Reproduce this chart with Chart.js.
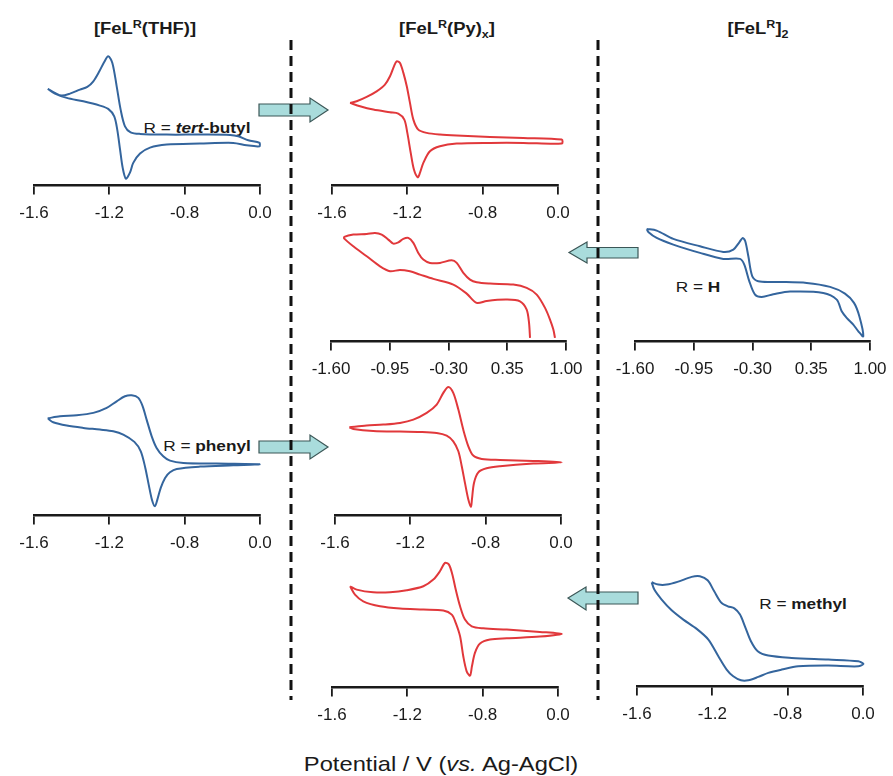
<!DOCTYPE html>
<html>
<head>
<meta charset="utf-8">
<title>FeL(R) cyclic voltammograms</title>
<script src="https://cdn.jsdelivr.net/npm/chart.js@4.4.1/dist/chart.umd.min.js"></script>
<style>
  html, body { margin: 0; padding: 0; background: #fff; }
  #fig { position: relative; width: 893px; height: 776px; overflow: hidden;
         font-family: 'Liberation Sans', Arial, sans-serif; color: #1a1a1a; }
  #fig canvas { position: absolute; }
  #deco { position: absolute; left: 0; top: 0; }
  .txt { position: absolute; white-space: nowrap; line-height: 1;
         transform: translate(-50%, -50%) scaleX(1.15); }
  .title { font-weight: bold; font-size: 16px; }
  .rlab { font-size: 15px; }
  .xlab { font-size: 21px; transform: translate(-50%, -50%) scaleX(1.13); }
  sup, sub { font-size: 68%; line-height: 0; }
</style>
</head>
<body>
<div id="fig">
  <svg id="deco" width="893" height="776">
    <!-- arrows between columns -->
    <g fill="#a9dcdc" stroke="#3b5656" stroke-width="1.2">
      <polygon points="259,104 310,104 310,98 328,110 310,122 310,116 259,116"/>
      <polygon points="638,247.5 587,247.5 587,242 569,252.5 587,263 587,258 638,258"/>
      <polygon points="259,441 310,441 310,435 328,447 310,459 310,453 259,453"/>
      <polygon points="638,592 586,592 586,587 568,598 586,610 586,604 638,604"/>
    </g>
    <!-- column separators -->
    <g stroke="#111" stroke-width="3" stroke-dasharray="10 6">
      <line x1="291" y1="40" x2="291" y2="700"/>
      <line x1="598" y1="40" x2="598" y2="700"/>
    </g>
  </svg>

  <div class="txt title" style="left:145px; top:29px;">[FeL<sup>R</sup>(THF)]</div>
  <div class="txt title" style="left:447px; top:29px;">[FeL<sup>R</sup>(Py)<sub>x</sub>]</div>
  <div class="txt title" style="left:758px; top:29px;">[FeL<sup>R</sup>]<sub>2</sub></div>

  <div class="txt rlab" style="left:197px; top:127px;">R = <b><i>tert</i>-butyl</b></div>
  <div class="txt rlab" style="left:698px; top:286px;">R = <b>H</b></div>
  <div class="txt rlab" style="left:207px; top:445px;">R = <b>phenyl</b></div>
  <div class="txt rlab" style="left:803px; top:603px;">R = <b>methyl</b></div>

  <div class="txt xlab" style="left:441px; top:763px;">Potential / V (<i>vs.</i> Ag-AgCl)</div>
</div>

<script>
/* ============== Axis ticks ============== */

// the -1.6 ... 0.0 panels: four evenly spaced ticks, last one printed as 0.0
const shortTickValues = [-1.6, -1.2, -0.8, -0.4];
const shortTickLabels = ['-1.6', '-1.2', '-0.8', '0.0'];
// the R = H panels
const wideTickValues = [-1.60, -0.95, -0.30, 0.35, 1.00];
const wideTickLabels = ['-1.60', '-0.95', '-0.30', '0.35', '1.00'];

/* ============== Voltammograms (E in V, i in a.u.) ============== */
// each loop: forward branch then return branch

// [FeL(THF)], R = tert-butyl
const tbuThfE = [-1.527, -1.489, -1.453, -1.409, -1.356, -1.317, -1.285, -1.253, -1.228, -1.206, -1.184,
  -1.161, -1.140, -1.117, -1.087, -1.037, -0.895, -0.719, -0.559, -0.515, -0.462, -0.402,
  -0.402, -0.471, -0.542, -0.719, -0.895, -0.984, -1.037, -1.073, -1.090, -1.112, -1.129, -1.143,
  -1.158, -1.174, -1.206, -1.250, -1.338, -1.426, -1.489, -1.527];
const tbuThfI = [96.7, 92.7, 90, 92, 96, 98.7, 104.3, 114.3, 123.3, 129.3, 122.7,
  99.3, 76, 59.3, 53.3, 51.7, 51, 51, 50.7, 49.3, 45.3, 42.7,
  39.3, 40.3, 42.7, 42, 41, 38, 32, 22.7, 13.3, 7, 17.7, 36,
  56, 69.3, 76.7, 80, 84.3, 87.7, 92, 96.7];

// [FeL(Py)x], R = tert-butyl
const tbuPyE = [-1.504, -1.469, -1.416, -1.363, -1.319, -1.292, -1.271, -1.257, -1.239, -1.221, -1.203,
  -1.186, -1.168, -1.142, -1.097, -1.027, -0.938, -0.761, -0.584, -0.380,
  -0.380, -0.584, -0.761, -0.938, -1.027, -1.080, -1.115, -1.133, -1.145, -1.165, -1.182,
  -1.200, -1.216, -1.248, -1.292, -1.381, -1.451, -1.504];
const tbuPyI = [82.7, 84.3, 88.7, 94.3, 101, 109.3, 119.3, 124.3, 122.7, 112.7, 99.3,
  82.7, 66, 56, 52.7, 51, 50, 48.7, 47.7, 46,
  42, 42.7, 42.7, 42, 39.3, 34.3, 22.7, 12.7, 8.3, 16, 32.7,
  52.7, 66, 72, 73.3, 76, 79.3, 82.7];

// [FeL]2, R = H
const hDimerE = [-1.471, -1.360, -1.176, -0.881, -0.623, -0.512, -0.446, -0.408, -0.380, -0.346,
  -0.302, -0.236, -0.032, 0.300, 0.558, 0.723, 0.823, 0.882, 0.926,
  0.871, 0.815, 0.742, 0.687, 0.632, 0.483, 0.115, -0.070, -0.198, -0.272,
  -0.335, -0.391, -0.438, -0.623, -0.881, -1.176, -1.360, -1.453, -1.471];
const hDimerI = [112.7, 111, 102.7, 95.3, 89.7, 92, 99.3, 103.7, 100.3, 85.3,
  65.3, 60.3, 59.7, 58.7, 54.7, 48, 38.7, 25.3, 5.3,
  10.3, 17, 23.7, 30.3, 42, 48.7, 50, 47.3, 44.7, 47,
  60.3, 77, 82.7, 82.7, 88.7, 97, 103.7, 109.7, 112.7];

// [FeL(Py)x], R = H (open trace, both ends run off at the right)
const hPyE = [0.602, 0.591, 0.565, 0.491, 0.344, 0.123, 0.012, -0.099, -0.247, -0.468,
  -0.615, -0.726, -0.837, -0.947, -1.058, -1.205, -1.353, -1.453,
  -1.453, -1.353, -1.205, -1.113, -1.039, -0.966, -0.911, -0.855, -0.800, -0.745,
  -0.689, -0.634, -0.579, -0.505, -0.394, -0.265, -0.209, -0.136, -0.062, 0.012,
  0.159, 0.417, 0.565, 0.676, 0.768, 0.823, 0.860, 0.878];
const hPyI = [3.7, 18.7, 32, 40.3, 42, 40.7, 38.7, 48, 57, 62.7,
  67, 70.3, 71.7, 70.3, 75.3, 85.3, 95.3, 103,
  104.7, 107, 107.7, 108.7, 107, 102, 98, 99.3, 102.7, 103.7,
  98.7, 88.7, 82, 78.7, 78.7, 81.3, 78.7, 68.7, 62, 59.3,
  58, 57, 53.7, 47, 33.7, 22, 12, 3.7];

// [FeL(THF)], R = phenyl
const phThfE = [-1.527, -1.462, -1.373, -1.285, -1.214, -1.161, -1.117, -1.081, -1.046, -1.023,
  -1.002, -0.975, -0.949, -0.914, -0.878, -0.807, -0.630, -0.402,
  -0.542, -0.719, -0.842, -0.878, -0.904, -0.927, -0.945, -0.958, -0.973, -0.991,
  -1.009, -1.033, -1.067, -1.126, -1.179, -1.250, -1.338, -1.426, -1.498, -1.527];
const phThfI = [97.3, 99.3, 100.3, 102.7, 107.7, 114.3, 119.3, 120.3, 117.7, 109.3,
  96, 79.3, 67.7, 59.3, 55, 52.7, 52, 51.3,
  50.3, 49, 46.7, 43.3, 37.7, 27.7, 16, 9.3, 15.3, 31,
  47.7, 64.3, 73.7, 81, 84.3, 86, 87.7, 90, 93.3, 97.3];

// [FeL(Py)x], R = phenyl
const phPyE = [-1.524, -1.432, -1.344, -1.255, -1.184, -1.113, -1.060, -1.025, -0.998, -0.972,
  -0.945, -0.919, -0.892, -0.866, -0.821, -0.724, -0.547, -0.396,
  -0.547, -0.724, -0.795, -0.839, -0.862, -0.873, -0.878, -0.892, -0.910, -0.927,
  -0.945, -0.972, -1.007, -1.060, -1.149, -1.255, -1.397, -1.503, -1.524];
const phPyI = [88.3, 90, 91, 92.7, 96, 102.7, 111, 122.7, 128.7, 122.7,
  106, 86, 69.3, 60, 56.7, 55.7, 54.7, 53.3,
  52, 49.3, 47.3, 43.3, 32.7, 16, 8.7, 16, 32.7, 49.3,
  64.3, 74.3, 80, 82.7, 83.7, 84, 84.7, 86.7, 88.3];

// [FeL(Py)x], R = methyl
const mePyE = [-1.504, -1.469, -1.381, -1.292, -1.203, -1.115, -1.062, -1.027, -1.000, -0.979,
  -0.961, -0.943, -0.920, -0.894, -0.858, -0.797, -0.672, -0.496, -0.380,
  -0.496, -0.672, -0.761, -0.814, -0.841, -0.857, -0.867, -0.885, -0.903, -0.920,
  -0.943, -0.964, -1.009, -1.115, -1.239, -1.345, -1.434, -1.478, -1.504];
const mePyI = [101.3, 98, 95.3, 95.3, 97.3, 101.3, 108, 116.3, 124.7, 123,
  113, 98, 81.3, 68, 61.3, 59.3, 58, 55.7, 53.7,
  51, 49.3, 48, 44, 34.7, 21.3, 12, 16.3, 31.3, 51.3,
  64.7, 73, 77, 78, 79, 81.3, 86.3, 93, 101.3];

// [FeL]2, R = methyl
const meDimerE = [-1.522, -1.487, -1.442, -1.381, -1.310, -1.266, -1.225, -1.190, -1.154, -1.118,
  -1.083, -1.053, -1.027, -0.995, -0.959, -0.903, -0.779, -0.584, -0.425, -0.398,
  -0.425, -0.584, -0.744, -0.832, -0.903, -0.956, -1.009, -1.048, -1.089,
  -1.124, -1.168, -1.221, -1.283, -1.354, -1.416, -1.469, -1.508, -1.522];
const meDimerI = [104.3, 102, 102, 105, 109.7, 110.3, 106.3, 95.3, 84.3, 80.3,
  78.3, 72, 60.3, 45.3, 35.3, 31, 28.7, 27, 25.3, 22.7,
  20.3, 21, 20.3, 17, 13.7, 9.7, 6.3, 6.3, 10.3,
  17, 30.3, 47, 57.7, 67, 76.3, 87, 97, 104.3];

/* ============== Panel layout ============== */

const BLUE = '#34659d';
const RED = '#e1383b';
const SIDE_PAD = 30;
const TICK_FONT = { family: "'Liberation Sans', Arial, sans-serif", size: 17 };

// x0/x1 = pixel span of the axis line, axisY = its height on the page
const panels = [
  { E: tbuThfE, I: tbuThfI, color: BLUE, x0: 34, x1: 260, axisY: 186, ticks: shortTickValues, labels: shortTickLabels },
  { E: tbuPyE, I: tbuPyI, color: RED, x0: 332, x1: 558, axisY: 186, ticks: shortTickValues, labels: shortTickLabels },
  { E: hPyE, I: hPyI, color: RED, x0: 331, x1: 566, axisY: 342, ticks: wideTickValues, labels: wideTickLabels },
  { E: hDimerE, I: hDimerI, color: BLUE, x0: 635, x1: 870, axisY: 342, ticks: wideTickValues, labels: wideTickLabels },
  { E: phThfE, I: phThfI, color: BLUE, x0: 34, x1: 260, axisY: 516, ticks: shortTickValues, labels: shortTickLabels },
  { E: phPyE, I: phPyI, color: RED, x0: 335, x1: 561, axisY: 516, ticks: shortTickValues, labels: shortTickLabels },
  { E: mePyE, I: mePyI, color: RED, x0: 332, x1: 558, axisY: 688, ticks: shortTickValues, labels: shortTickLabels },
  { E: meDimerE, I: meDimerI, color: BLUE, x0: 637, x1: 863, axisY: 687, ticks: shortTickValues, labels: shortTickLabels },
];

/**
 * Builds one voltammogram chart on its own canvas and moves the canvas so that
 * the x axis lands where it sits in the figure.
 */
function renderPanel(panel) {
  const canvas = document.createElement('canvas');
  canvas.width = (panel.x1 - panel.x0) + 2 * SIDE_PAD;
  canvas.height = 240;
  document.getElementById('fig').appendChild(canvas);

  // CV loops run back and forth in E, so the points are not sorted in x
  const points = panel.E.map((e, k) => ({ x: e, y: panel.I[k] }));

  const chart = new Chart(canvas, {
    type: 'scatter',
    data: {
      datasets: [{
        data: points,
        showLine: true,
        borderColor: panel.color,
        borderWidth: 2,
        pointRadius: 0,
        pointHoverRadius: 0,
        tension: 0.3,
        fill: false,
        clip: false,
      }]
    },
    options: {
      responsive: false,
      animation: false,
      devicePixelRatio: 1,
      events: [],
      layout: { padding: { left: SIDE_PAD, right: SIDE_PAD, top: 4, bottom: 2 } },
      plugins: { legend: { display: false }, tooltip: { enabled: false } },
      scales: {
        x: {
          type: 'linear',
          min: panel.ticks[0],
          max: panel.ticks[panel.ticks.length - 1],
          afterBuildTicks: axis => { axis.ticks = panel.ticks.map(v => ({ value: v })); },
          ticks: {
            callback: (value, index) => panel.labels[index],
            font: TICK_FONT,
            color: '#1a1a1a',
            padding: 9,
            maxRotation: 0,
            autoSkip: false,
          },
          grid: { drawOnChartArea: false, drawTicks: true, tickLength: 9, lineWidth: 1.8, color: '#1a1a1a' },
          border: { display: true, width: 2.5, color: '#1a1a1a' },
        },
        y: { display: false, min: 0, max: 200 },
      },
    },
  });

  // one current unit per pixel
  const area = chart.chartArea;
  chart.options.scales.y.max = area.bottom - area.top;
  chart.update('none');

  canvas.style.left = (panel.x0 - chart.chartArea.left) + 'px';
  canvas.style.top = (panel.axisY - chart.chartArea.bottom) + 'px';
  return chart;
}

panels.forEach(renderPanel);
</script>
</body>
</html>
